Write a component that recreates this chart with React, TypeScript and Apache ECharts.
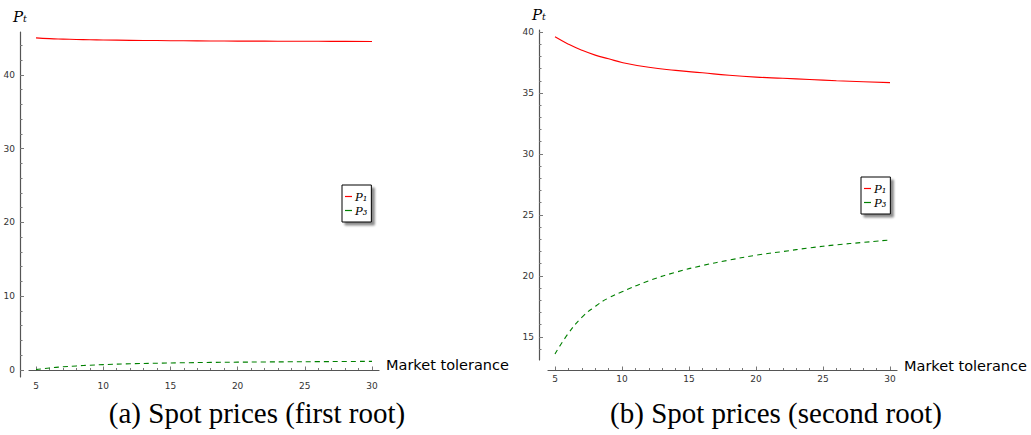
import React, { useEffect, useRef } from "react";
import * as echarts from "echarts";

// Market tolerance (x values)
const tolerance = [5, 6, 7, 8, 9, 10, 12, 14, 16, 18, 20, 22, 24, 26, 28, 30];

// (a) first root
const p1First = [45.0, 44.9, 44.84, 44.79, 44.75, 44.72, 44.67, 44.64, 44.61, 44.59, 44.57, 44.56, 44.55, 44.54, 44.53, 44.52];
const p3First = [0.05, 0.28, 0.43, 0.55, 0.65, 0.73, 0.84, 0.92, 0.98, 1.03, 1.06, 1.09, 1.11, 1.13, 1.15, 1.17];

// (b) second root
const p1Second = [39.6, 39.0, 38.5, 38.1, 37.8, 37.5, 37.1, 36.85, 36.65, 36.45, 36.3, 36.2, 36.1, 36.0, 35.92, 35.85];
const p3Second = [13.6, 15.3, 16.6, 17.5, 18.2, 18.7, 19.6, 20.3, 20.85, 21.3, 21.7, 22.0, 22.3, 22.55, 22.75, 22.95];

// tick labels
const xTicks = [5, 10, 15, 20, 25, 30];
const xMinorTicks = [6, 7, 8, 9, 11, 12, 13, 14, 16, 17, 18, 19, 21, 22, 23, 24, 26, 27, 28, 29];
const yTicksFirst = [0, 10, 20, 30, 40];
const yMinorFirst = [2, 4, 6, 8, 12, 14, 16, 18, 22, 24, 26, 28, 32, 34, 36, 38, 42, 44];
const yTicksSecond = [15, 20, 25, 30, 35, 40];
const yMinorSecond = [14, 16, 17, 18, 19, 21, 22, 23, 24, 26, 27, 28, 29, 31, 32, 33, 34, 36, 37, 38, 39];

const seriesNames = ["P\u2081", "P\u2083"];
const seriesColors = ["#ff0000", "#008000"];
const captions = ["(a) Spot prices (first root)", "(b) Spot prices (second root)"];
const xName = "Market tolerance";
const yName = "P\u209C";

const pairs = (ys: number[]) => tolerance.map((x, i) => [x, ys[i]]);

const AXIS_COLOR = "#555";
const TICK_COLOR = "#777";
const LABEL = { fontFamily: "DejaVu Sans", fontSize: 9, color: "#333" };

function makeX(gridIndex: number, minor: boolean, onZero: boolean, offset: number) {
  return {
    type: "value",
    gridIndex,
    position: "bottom",
    min: 4.478,
    max: 30.52,
    offset,
    name: minor ? "" : xName,
    nameLocation: "end",
    nameGap: 7,
    nameTextStyle: { fontFamily: "DejaVu Sans", fontSize: 14.5, color: "#000", verticalAlign: "bottom", align: "left", lineHeight: 9 },
    axisLine: minor
      ? { show: false, onZero, onZeroAxisIndex: gridIndex === 0 ? 0 : 2 }
      : { show: true, onZero, onZeroAxisIndex: gridIndex === 0 ? 0 : 2, lineStyle: { color: AXIS_COLOR, width: 1.2 } },
    axisTick: {
      show: true,
      inside: true,
      length: minor ? 2 : 3.5,
      customValues: minor ? xMinorTicks : xTicks,
      lineStyle: { color: TICK_COLOR, width: 1 },
    },
    axisLabel: minor ? { show: false } : { show: true, margin: 4, customValues: xTicks, ...LABEL },
    splitLine: { show: false },
  };
}

function makeY(gridIndex: number, minor: boolean, min: number, max: number, ticks: number[], minorTicks: number[]) {
  return {
    type: "value",
    gridIndex,
    position: "left",
    min,
    max,
    offset: 9,
    name: minor ? "" : yName,
    nameLocation: "end",
    nameGap: 8,
    nameTextStyle: { fontFamily: "DejaVu Serif", fontStyle: "italic", fontSize: 15, color: "#000", align: "center" },
    axisLine: minor ? { show: false, onZero: false } : { show: true, onZero: false, lineStyle: { color: AXIS_COLOR, width: 1.2 } },
    axisTick: {
      show: true,
      inside: true,
      length: minor ? 2.5 : 4,
      customValues: minor ? minorTicks : ticks,
      lineStyle: { color: TICK_COLOR, width: 1 },
    },
    axisLabel: minor ? { show: false } : { show: true, margin: 5, customValues: ticks, ...LABEL },
    splitLine: { show: false },
  };
}

function makeLegend(left: number, top: number) {
  return {
    orient: "vertical",
    left,
    top,
    data: seriesNames.map((name, i) => ({ name, icon: "rect", itemStyle: { color: seriesColors[i] } })),
    padding: [5, 4, 5, 3],
    itemWidth: 7,
    itemHeight: 1.2,
    itemGap: 1,
    backgroundColor: "#fff",
    borderColor: "#000",
    borderWidth: 1,
    shadowColor: "rgba(0,0,0,0.45)",
    shadowBlur: 2,
    shadowOffsetX: 3,
    shadowOffsetY: 3,
    selectedMode: false,
    textStyle: { fontFamily: "DejaVu Serif", fontStyle: "italic", fontSize: 11.5, color: "#000", lineHeight: 13, padding: [0, 0, 0, -2] },
  };
}

export default function App() {
  const ref = useRef<HTMLDivElement>(null);
  useEffect(() => {
    if (!ref.current) return;
    const chart = echarts.init(ref.current, null, { renderer: "svg" });
    const lineRed = { color: seriesColors[0], width: 1.1, type: "solid" };
    const lineGreen = { color: seriesColors[1], width: 1.1, type: [5, 4] };
    chart.setOption({
      animation: false,
      backgroundColor: "#fff",
      grid: [
        { left: 29, top: 32, width: 350, height: 345 },
        { left: 548, top: 30, width: 349, height: 330 },
      ],
      xAxis: [
        makeX(0, false, true, 0),
        makeX(1, false, false, 10),
        makeX(0, true, true, 0),
        makeX(1, true, false, 10),
      ],
      yAxis: [
        makeY(0, false, -0.95, 45.8, yTicksFirst, yMinorFirst),
        makeY(0, true, -0.95, 45.8, yTicksFirst, yMinorFirst),
        makeY(1, false, 13.11, 40.16, yTicksSecond, yMinorSecond),
        makeY(1, true, 13.11, 40.16, yTicksSecond, yMinorSecond),
      ],
      legend: [makeLegend(342, 185), makeLegend(861, 177)],
      series: [
        { name: seriesNames[0], type: "line", xAxisIndex: 0, yAxisIndex: 0, data: pairs(p1First), smooth: true, showSymbol: false, symbol: "none", lineStyle: lineRed, itemStyle: { color: seriesColors[0] } },
        { name: seriesNames[1], type: "line", xAxisIndex: 0, yAxisIndex: 0, data: pairs(p3First), smooth: true, showSymbol: false, symbol: "none", lineStyle: lineGreen, itemStyle: { color: seriesColors[1] } },
        { name: seriesNames[0], type: "line", xAxisIndex: 1, yAxisIndex: 2, data: pairs(p1Second), smooth: true, showSymbol: false, symbol: "none", lineStyle: lineRed, itemStyle: { color: seriesColors[0] } },
        { name: seriesNames[1], type: "line", xAxisIndex: 1, yAxisIndex: 2, data: pairs(p3Second), smooth: true, showSymbol: false, symbol: "none", lineStyle: lineGreen, itemStyle: { color: seriesColors[1] } },
      ],
      graphic: [
        { type: "text", x: 257, y: 413, style: { text: captions[0], fontFamily: "Liberation Serif", fontSize: 29, fill: "#000", align: "center", verticalAlign: "middle" } },
        { type: "text", x: 776, y: 413, style: { text: captions[1], fontFamily: "Liberation Serif", fontSize: 29, fill: "#000", align: "center", verticalAlign: "middle" } },
      ],
    });
    return () => chart.dispose();
  }, []);
  return <div ref={ref} style={{ position: "fixed", left: 0, top: 0, width: 1031, height: 435 }} />;
}
